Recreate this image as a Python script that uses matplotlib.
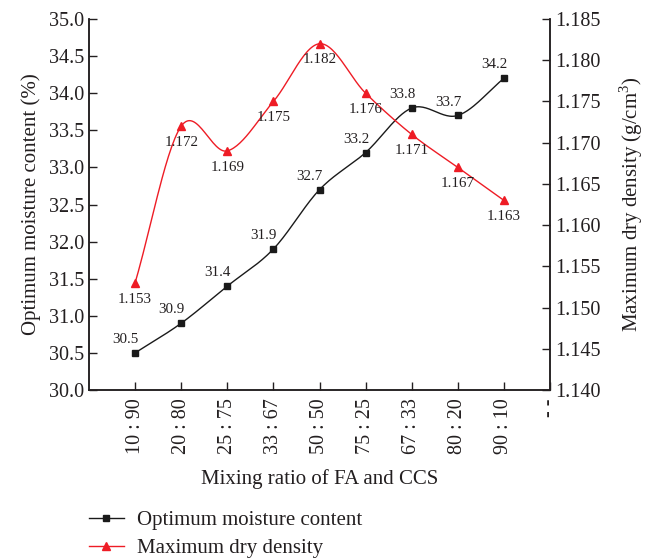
import matplotlib
matplotlib.use("Agg")
import matplotlib.pyplot as plt
import numpy as np
from matplotlib.lines import Line2D

plt.rcParams["font.family"] = ["Liberation Serif", "DejaVu Serif"]
plt.rcParams["text.color"] = "#231f20"
plt.rcParams["axes.labelcolor"] = "#231f20"
plt.rcParams["xtick.color"] = "#231f20"
plt.rcParams["ytick.color"] = "#231f20"
plt.rcParams["mathtext.fontset"] = "custom"
plt.rcParams["mathtext.rm"] = "Liberation Serif"

ratios = ["10 : 90", "20 : 80", "25 : 75", "33 : 67", "50 : 50",
          "75 : 25", "67 : 33", "80 : 20", "90 : 10"]
moisture = [30.5, 30.9, 31.4, 31.9, 32.7, 33.2, 33.8, 33.7, 34.2]
density = [1.153, 1.172, 1.169, 1.175, 1.182, 1.176, 1.171, 1.167, 1.163]
moisture_labels = ["30.5", "30.9", "31.4", "31.9", "32.7", "33.2", "33.8", "33.7", "34.2"]
density_labels = ["1.153", "1.172", "1.169", "1.175", "1.182", "1.176", "1.171", "1.167", "1.163"]


def smooth(x, y, n=30):
    """Catmull-Rom curve through the points (like a smoothed line)."""
    x = np.asarray(x, float)
    y = np.asarray(y, float)
    px = np.concatenate([[2 * x[0] - x[1]], x, [2 * x[-1] - x[-2]]])
    py = np.concatenate([[2 * y[0] - y[1]], y, [2 * y[-1] - y[-2]]])
    xs, ys = [], []
    t = np.linspace(0, 1, n)
    for i in range(1, len(px) - 2):
        for p, out in ((px, xs), (py, ys)):
            p0, p1, p2, p3 = p[i - 1], p[i], p[i + 1], p[i + 2]
            out.append(0.5 * ((2 * p1) + (-p0 + p2) * t
                              + (2 * p0 - 5 * p1 + 4 * p2 - p3) * t ** 2
                              + (-p0 + 3 * p1 - 3 * p2 + p3) * t ** 3))
    return np.concatenate(xs), np.concatenate(ys)


x = np.arange(1, len(ratios) + 1)

fig = plt.figure(figsize=(6.53, 5.6), dpi=100)
ax = fig.add_axes([89 / 653, 1 - 390 / 560, 461 / 653, 371 / 560])
ax2 = ax.twinx()

sx, sy = smooth(x, moisture)
ax.plot(sx, sy, color="#1a1a1a", linewidth=1.0)
ax.plot(x, moisture, "s", color="#1a1a1a", markersize=4.8)
for xi, yi, lab in zip(x, moisture, moisture_labels):
    ax.annotate(lab, (xi, yi), xytext=(-7, 5), textcoords="offset points",
                ha="center", va="bottom", fontsize=10.8)

sx, sy = smooth(x, density)
ax2.plot(sx, sy, color="#ee1c25", linewidth=1.0)
ax2.plot(x, density, "^", color="#ee1c25", markersize=5.8)
for xi, yi, lab in zip(x, density, density_labels):
    ax2.annotate(lab, (xi, yi), xytext=(0, -7), textcoords="offset points",
                 ha="center", va="top", fontsize=10.8)

ax.set_xlim(0, 10)
ax.set_ylim(30.0, 35.0)
ax.set_yticks(np.arange(30.0, 35.01, 0.5))
ax.set_yticklabels([f"{v:.1f}" for v in np.arange(30.0, 35.01, 0.5)])
ax2.set_ylim(1.140, 1.185)
ax2.set_yticks(np.arange(1.140, 1.1851, 0.005))
ax2.set_yticklabels([f"{v:.3f}" for v in np.arange(1.140, 1.1851, 0.005)])

ax.set_xticks(list(x) + [10])
ax.set_xticklabels(ratios + ["- -"], rotation=90)

for a in (ax, ax2):
    a.spines["top"].set_visible(False)
    a.tick_params(direction="in", length=6, width=1, labelsize=14.5, color="#231f20")
    for s in a.spines.values():
        s.set_linewidth(1.1)
        s.set_color("#231f20")
ax.tick_params(axis="x", pad=6)

ax.set_xlabel("Mixing ratio of FA and CCS", fontsize=15, labelpad=11)
ax.set_ylabel("Optimum moisture content (%)", fontsize=15, labelpad=6)
ax2.set_ylabel("Maximum dry density (g/cm$^3$)", fontsize=15, labelpad=12)

handles = [
    Line2D([], [], color="#1a1a1a", marker="s", markersize=4.8, linewidth=1.0),
    Line2D([], [], color="#ee1c25", marker="^", markersize=5.8, linewidth=1.0),
]
fig.legend(handles, ["Optimum moisture content", "Maximum dry density"],
           loc="upper left", bbox_to_anchor=(72 / 653, 1 - 494 / 560),
           frameon=False, fontsize=15, handlelength=1.7, handletextpad=0.6,
           labelspacing=0.4, borderpad=0.3)

fig.savefig("out.png", dpi=100)
